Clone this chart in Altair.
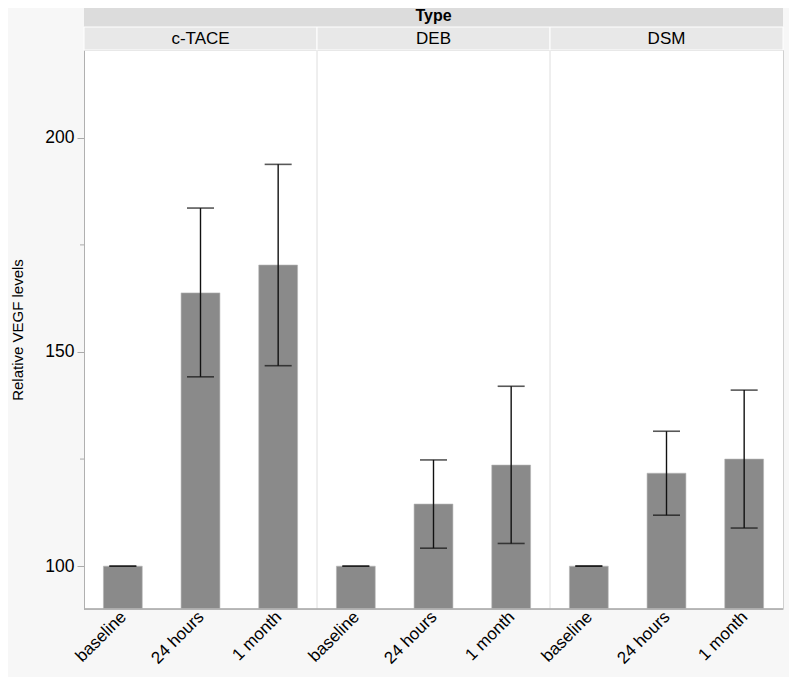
import altair as alt
import pandas as pd

types = ["c-TACE", "DEB", "DSM"]
times = ["baseline", "24 hours", "1 month"]
means = [100.0, 163.8, 170.3,
         100.0, 114.5, 123.6,
         100.0, 121.7, 125.0]
lowers = [100.0, 144.2, 146.8,
          100.0, 104.2, 105.3,
          100.0, 111.9, 108.9]
uppers = [100.0, 183.6, 193.8,
          100.0, 124.8, 142.0,
          100.0, 131.5, 141.1]
minor_ticks = [125, 175]

rows = []
i = 0
for t in types:
    for tm in times:
        rows.append({"Type": t, "Time": tm, "mean": means[i], "lo": lowers[i], "hi": uppers[i]})
        i += 1
df = pd.DataFrame(rows)
types_df = pd.DataFrame({"Type": types})
minor_df = pd.DataFrame({"v": minor_ticks})

W, H = 699, 559
FONT = "Liberation Sans"
Y0 = 90

xscale = alt.Scale(domain=types, paddingInner=0, paddingOuter=0)
xoff = alt.Scale(domain=times, paddingInner=0.5, paddingOuter=0.25)
yscale = alt.Scale(domain=[Y0, 220.5], nice=False, zero=False)

X = alt.X("Type:N", scale=xscale, axis=None)
XO = alt.XOffset("Time:N", scale=xoff)

bars = alt.Chart(df).mark_bar(color="#8a8a8a", stroke="#b5b5b5", strokeWidth=0.6).encode(
    x=X, xOffset=XO,
    y=alt.Y("mean:Q", scale=yscale,
            axis=alt.Axis(values=[100, 150, 200], title="Relative VEGF levels",
                          titleFont=FONT, titleFontSize=15, titleFontWeight="normal",
                          titleColor="#000", titlePadding=19,
                          labelFont=FONT, labelFontSize=17.5, labelColor="#000",
                          labelPadding=3, tickSize=7, tickColor="#aaaaaa",
                          domainColor="#b0b0b0", grid=False)),
    y2=alt.datum(Y0),
)

err = alt.Chart(df).mark_rule(color="#111", strokeWidth=1.4).encode(
    x=X, xOffset=XO, y=alt.Y("lo:Q", scale=yscale), y2="hi:Q"
)
cap_lo = alt.Chart(df).mark_tick(color="#111", thickness=1.6, size=27).encode(
    x=X, xOffset=XO, y=alt.Y("lo:Q", scale=yscale)
)
cap_hi = alt.Chart(df).mark_tick(color="#111", thickness=1.6, size=27).encode(
    x=X, xOffset=XO, y=alt.Y("hi:Q", scale=yscale)
)

minor = alt.Chart(minor_df).mark_rule(color="#aaaaaa", strokeWidth=1).encode(
    y=alt.Y("v:Q", scale=yscale), x=alt.value(-4), x2=alt.value(0)
)

seps = alt.Chart(types_df).transform_filter(
    alt.datum.Type != "c-TACE"
).mark_rule(color="#dedede", strokeWidth=1).encode(
    x=alt.X("Type:N", scale=xscale, axis=None, bandPosition=0),
    y=alt.value(0), y2=alt.value(H)
)

bottom_line = alt.Chart(types_df).mark_rule(color="#b0b0b0", strokeWidth=1).encode(
    x=alt.value(0), x2=alt.value(W), y=alt.value(H)
)

type_band = alt.Chart(types_df).mark_rect(color="#dcdcdc").encode(
    x=alt.value(0), x2=alt.value(W), y=alt.value(-52), y2=alt.value(-23)
)
type_text = alt.Chart(pd.DataFrame({"t": ["Type"]})).mark_text(
    font=FONT, fontSize=16, fontWeight="bold", color="#000", baseline="middle"
).encode(x=alt.value(W / 2), y=alt.value(-34), text="t:N")

panel_band = alt.Chart(types_df).mark_rect(color="#e8e8e8", stroke="#ffffff", strokeWidth=1).encode(
    x=X, y=alt.value(-23), y2=alt.value(0)
)
panel_text = alt.Chart(types_df).mark_text(
    font=FONT, fontSize=17, color="#000", baseline="middle"
).encode(x=X, y=alt.value(-11), text="Type:N")

xlabels = alt.Chart(df).mark_text(
    font=FONT, fontSize=17, color="#000", angle=315, align="right", baseline="middle",
    dx=3, dy=-2
).encode(x=X, xOffset=XO, y=alt.value(H + 9), text="Time:N")

chart = alt.layer(
    seps, bars, err, cap_lo, cap_hi, minor, bottom_line,
    type_band, type_text, panel_band, panel_text, xlabels
).properties(
    width=W, height=H,
    autosize=alt.AutoSizeParams(type="none"),
    padding={"left": 76, "top": 42, "right": 6, "bottom": 68},
    background="#f7f7f7",
).configure_view(
    stroke="#d0d0d0", fill="#ffffff"
)

chart.save("out.html", embed_options={"renderer": "svg", "actions": False})
